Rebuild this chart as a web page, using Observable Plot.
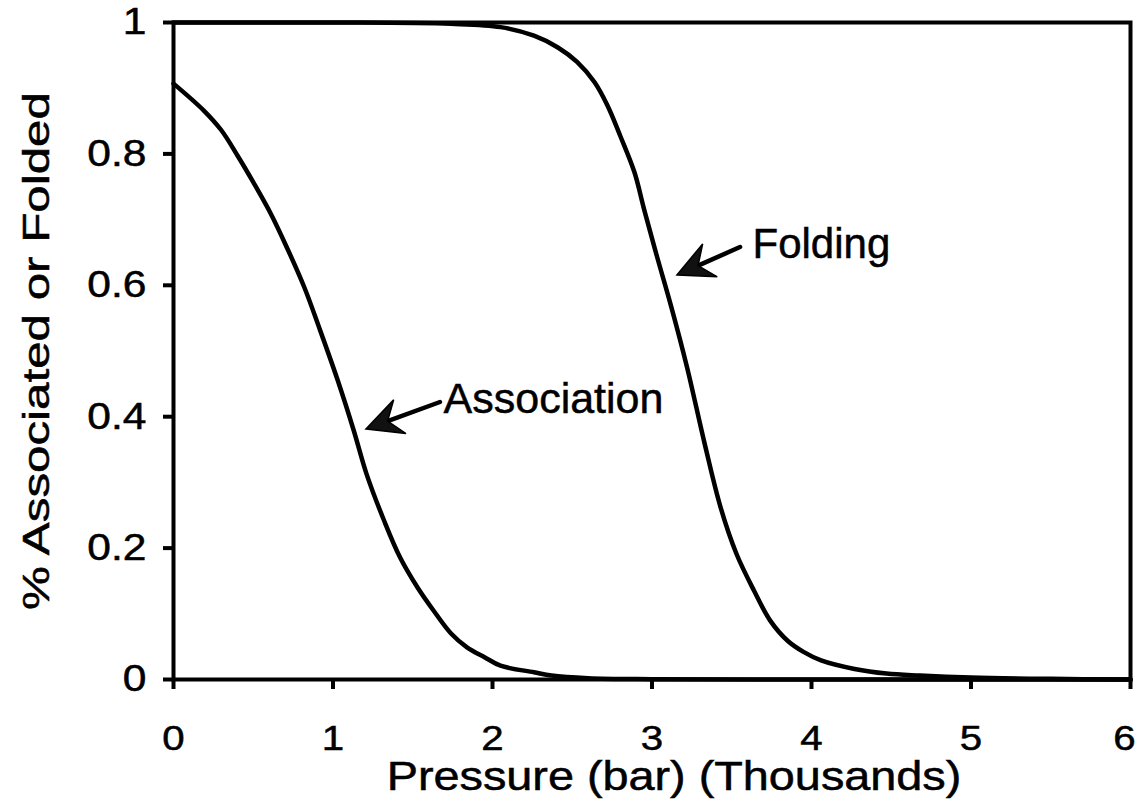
<!DOCTYPE html>
<html>
<head>
<meta charset="utf-8">
<script src="https://cdn.jsdelivr.net/npm/d3@7"></script>
<script src="https://cdn.jsdelivr.net/npm/@observablehq/plot@0.6"></script>
<style>
  html, body { margin: 0; padding: 0; background: #ffffff; }
  #chart svg { display: block; }
  #chart svg text { stroke: #000; stroke-width: 0.5px; }
</style>
</head>
<body>
<div id="chart"></div>
<script>
// Pressure in thousands of bar, fraction associated
const pressureAssoc = [0, 0.19, 0.30, 0.40, 0.50, 0.61, 0.71, 0.82, 0.92, 1.03, 1.13, 1.21, 1.32, 1.42, 1.53, 1.63, 1.74, 1.84, 1.95, 2.05, 2.26, 2.37, 2.6, 3.0, 4.0, 5.0, 6.0];
const fracAssoc     = [0.907, 0.866, 0.836, 0.798, 0.757, 0.709, 0.658, 0.597, 0.531, 0.455, 0.379, 0.313, 0.242, 0.186, 0.140, 0.105, 0.070, 0.049, 0.034, 0.021, 0.011, 0.006, 0.002, 0.0005, 0, 0, 0];

// Pressure in thousands of bar, fraction folded
const pressureFold = [0, 1.0, 1.74, 2.05, 2.26, 2.41, 2.53, 2.64, 2.72, 2.80, 2.89, 2.95, 3.03, 3.12, 3.22, 3.33, 3.43, 3.53, 3.64, 3.74, 3.85, 3.95, 4.06, 4.27, 4.47, 4.68, 5.0, 5.5, 6.0];
const fracFold     = [1.0, 1.0, 0.998, 0.993, 0.980, 0.962, 0.940, 0.909, 0.874, 0.828, 0.772, 0.716, 0.645, 0.568, 0.475, 0.359, 0.262, 0.191, 0.135, 0.090, 0.059, 0.042, 0.029, 0.016, 0.009, 0.006, 0.003, 0.001, 0];

const xTicks = [0, 1, 2, 3, 4, 5, 6];
const yTicks = [0, 0.2, 0.4, 0.6, 0.8, 1];

const xLabel = "Pressure (bar) (Thousands)";
const yLabel = "% Associated or Folded";

// Annotations (data coordinates)
const annotText = ["Association", "Folding"];
const annotX = [1.693, 3.630];
const annotY = [0.426, 0.662];
const annotSize = [43, 42];
const arrowTailX = [1.674, 3.555];
const arrowTailY = [0.4216, 0.6575];
const arrowTipX = [1.210, 3.160];
const arrowTipY = [0.3805, 0.6150];

const assocData = pressureAssoc.map((p, i) => ({p, v: fracAssoc[i]}));
const foldData = pressureFold.map((p, i) => ({p, v: fracFold[i]}));

function arrowMark(index, scales) {
  const ns = "http://www.w3.org/2000/svg";
  const g = document.createElementNS(ns, "g");
  g.setAttribute("aria-label", "arrows");
  for (let i = 0; i < arrowTipX.length; i++) {
    const x1 = scales.x(arrowTailX[i]), y1 = scales.y(arrowTailY[i]);
    const x2 = scales.x(arrowTipX[i]), y2 = scales.y(arrowTipY[i]);
    const dx = x1 - x2, dy = y1 - y2, L = Math.hypot(dx, dy);
    const ux = dx / L, uy = dy / L, nx = -uy, ny = ux;
    const headLen = 36, half = 18, notch = 23;
    const line = document.createElementNS(ns, "line");
    line.setAttribute("x1", x1); line.setAttribute("y1", y1);
    line.setAttribute("x2", x2 + ux * notch); line.setAttribute("y2", y2 + uy * notch);
    line.setAttribute("stroke", "#000"); line.setAttribute("stroke-width", 4.5);
    line.setAttribute("stroke-linecap", "round");
    g.append(line);
    const pts = [
      [x2, y2],
      [x2 + ux * headLen + nx * half, y2 + uy * headLen + ny * half],
      [x2 + ux * notch, y2 + uy * notch],
      [x2 + ux * headLen - nx * half, y2 + uy * headLen - ny * half]
    ];
    const poly = document.createElementNS(ns, "polygon");
    poly.setAttribute("points", pts.map(p => p.join(",")).join(" "));
    poly.setAttribute("fill", "#111");
    poly.setAttribute("stroke", "#000");
    poly.setAttribute("stroke-width", 1.5);
    g.append(poly);
  }
  return g;
}

const chart = Plot.plot({
  width: 1137,
  height: 801,
  marginLeft: 173,
  marginRight: 7,
  marginTop: 22,
  marginBottom: 122,
  style: {fontFamily: "'Liberation Sans', Arial, Helvetica, sans-serif", color: "#000", background: "#fff"},
  x: {domain: [0, 6]},
  y: {domain: [0, 1]},
  marks: [
    Plot.axisX({ticks: xTicks, tickFormat: d => String(d), tickSize: 10, tickPadding: 36, fontSize: 35, strokeWidth: 4, label: null}),
    Plot.axisY({ticks: yTicks, tickFormat: d => String(d), tickSize: 10, tickPadding: 17, fontSize: 37, strokeWidth: 4, label: null}),
    Plot.line(assocData, {x: "p", y: "v", stroke: "#000", strokeWidth: 4.5, curve: "catmull-rom"}),
    Plot.line(foldData, {x: "p", y: "v", stroke: "#000", strokeWidth: 4.5, curve: "catmull-rom"}),
    Plot.frame({stroke: "#000", strokeWidth: 4}),
    Plot.text([annotText[0]], {x: [annotX[0]], y: [annotY[0]], text: d => d, textAnchor: "start", lineAnchor: "middle", fontSize: annotSize[0], fill: "#000"}),
    Plot.text([annotText[1]], {x: [annotX[1]], y: [annotY[1]], text: d => d, textAnchor: "start", lineAnchor: "middle", fontSize: annotSize[1], fill: "#000"}),
    arrowMark,
    Plot.text([xLabel], {frameAnchor: "bottom", textAnchor: "middle", lineAnchor: "middle", dx: 22, dy: 98, fontSize: 40, fill: "#000"}),
    Plot.text([yLabel], {frameAnchor: "left", textAnchor: "middle", lineAnchor: "middle", rotate: -90, dx: -136, fontSize: 36, fill: "#000"})
  ]
});

document.getElementById("chart").append(chart);

// Widen glyphs along the reading direction, keeping each text's anchor fixed
function stretchEl(t, f, shift = 0) {
  const x = +t.getAttribute("x") || 0, y = +t.getAttribute("y") || 0;
  const tr = t.getAttribute("transform") || "";
  t.setAttribute("transform", `${tr} translate(${x + shift},${y}) scale(${f},1) translate(${-x},${-y})`);
}
const allTexts = Array.from(chart.querySelectorAll("text"));
const xTickTexts = Array.from(chart.querySelectorAll('g[aria-label="x-axis tick label"] text'));
const yTickTexts = Array.from(chart.querySelectorAll('g[aria-label="y-axis tick label"] text'));
xTickTexts.forEach((t, i) => stretchEl(t, 1.15, i === xTickTexts.length - 1 ? -6 : 0));
yTickTexts.forEach(t => stretchEl(t, 1.15));
allTexts.filter(t => t.textContent === xLabel).forEach(t => stretchEl(t, 1.17));
allTexts.filter(t => t.textContent === yLabel).forEach(t => stretchEl(t, 1.37));
</script>
</body>
</html>
